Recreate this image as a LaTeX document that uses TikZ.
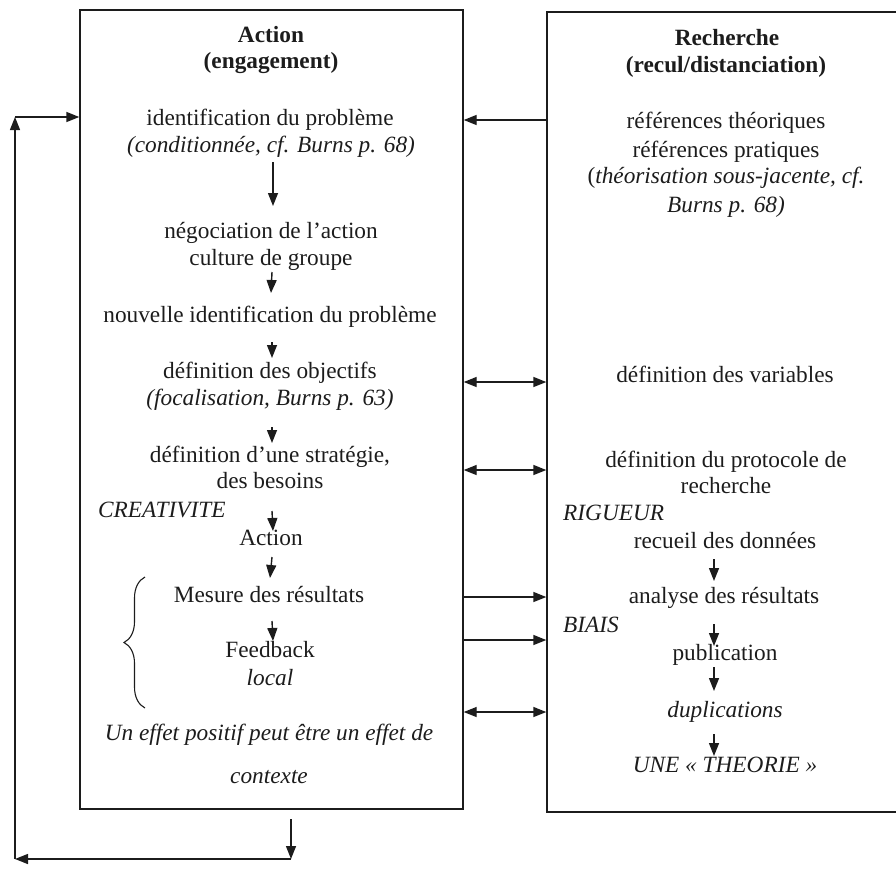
\documentclass[tikz,border=0pt]{standalone}
\usepackage{fontspec}
\setmainfont{Liberation Serif}
\usetikzlibrary{arrows.meta,decorations.pathreplacing}
\definecolor{ink}{RGB}{28,28,28}
\tikzset{
  txt/.style={anchor=base,inner sep=0pt,text=ink,font=\fontsize{23.3}{28}\selectfont},
  itx/.style={txt,font=\fontsize{23.3}{28}\selectfont\itshape},
  btx/.style={txt,font=\fontsize{23.3}{28}\selectfont\bfseries},
  ltx/.style={itx,anchor=base west},
  boxstyle/.style={draw=ink,line width=1.4pt,inner sep=0pt},
  arr/.style={draw=ink,line width=1.4pt,-{Triangle[length=13pt,width=10pt]}},
  darr/.style={draw=ink,line width=1.4pt,{Triangle[length=13pt,width=10pt]}-{Triangle[length=13pt,width=10pt]}}
}
\begin{document}
\begin{tikzpicture}[x=1pt,y=-1pt]
\useasboundingbox (0,0) rectangle (896,870);
% boxes
\node[boxstyle,minimum width=383pt,minimum height=799pt] (LB) at (271.5,409.5) {};
\node[boxstyle,minimum width=360pt,minimum height=800pt] (RB) at (727,412) {};
% left texts
\node[btx] (A1) at (271,42) {Action};
\node[btx] (A2) at (271,68) {(engagement)};
\node[txt] (L1) at (270,125) {identification du problème};
\node[itx] (L2) at (271,152) {(conditionnée, cf. Burns p. 68)};
\node[txt] (L3) at (271,238) {négociation de l’action};
\node[txt] (L4) at (271,265) {culture de groupe};
\node[txt] (L5) at (270,322) {nouvelle identification du problème};
\node[txt] (L6) at (270,378) {définition des objectifs};
\node[itx] (L7) at (270,405) {(focalisation, Burns p. 63)};
\node[txt] (L8) at (270,462) {définition d’une stratégie,};
\node[txt] (L9) at (270,488) {des besoins};
\node[ltx] (CR) at (98,517) {CREATIVITE};
\node[txt] (L10) at (271,545) {Action};
\node[txt] (L11) at (269,602) {Mesure des résultats};
\node[txt] (L12) at (270,657) {Feedback};
\node[itx] (L13) at (270,685) {local};
\node[itx] (L14) at (269,740) {Un effet positif peut être un effet de};
\node[itx] (L15) at (269,783) {contexte};
% right texts
\node[btx] (R1) at (727,45) {Recherche};
\node[btx] (R2) at (726,72) {(recul/distanciation)};
\node[txt] (R3) at (726,128) {références théoriques};
\node[txt] (R4) at (726,157) {références pratiques};
\node[txt] (R5) at (726,183) {(\textit{théorisation sous-jacente, cf.}};
\node[itx] (R6) at (726,212) {Burns p. 68)};
\node[txt] (R7) at (725,382) {définition des variables};
\node[txt] (R8) at (726,467) {définition du protocole de};
\node[txt] (R9) at (726,493) {recherche};
\node[ltx] (RG) at (563,520) {RIGUEUR};
\node[txt] (R10) at (725,548) {recueil des données};
\node[txt] (R11) at (724,603) {analyse des résultats};
\node[ltx] (BI) at (563,632) {BIAIS};
\node[txt] (R12) at (725,660) {publication};
\node[itx] (R13) at (725,717) {duplications};
\node[itx] (R14) at (725,772) {UNE « THEORIE »};
% left chain arrows
\draw[arr] ([shift={(2,10)}]L2.base) -- ([shift={(2,-32)}]L3.base);
\draw[arr] ([shift={(1,7)}]L4.base) -- ([shift={(1,-29)}]L5.base);
\draw[arr] ([shift={(2,20)}]L5.base) -- ([shift={(2,-20)}]L6.base);
\draw[arr] ([shift={(2,22)}]L7.base) -- ([shift={(2,-19)}]L8.base);
\draw[arr] ([shift={(2,23)}]L9.base) -- ([shift={(2,-14)}]L10.base);
\draw[arr] ([shift={(1,12)}]L10.base) -- ([shift={(1,-24)}]L11.base);
\draw[arr] ([shift={(3,19)}]L11.base) -- ([shift={(3,-16)}]L12.base);
% right chain arrows
\draw[arr] ([shift={(-11,11)}]R10.base) -- ([shift={(-10,-22)}]R11.base);
\draw[arr] ([shift={(-10,21)}]R11.base) -- ([shift={(-11,-14)}]R12.base);
\draw[arr] ([shift={(-11,7)}]R12.base) -- ([shift={(-11,-26)}]R13.base);
\draw[arr] ([shift={(-11,17)}]R13.base) -- ([shift={(-11,-16)}]R14.base);
% brace
\draw[draw=ink,line width=1.1pt,decorate,decoration={brace,amplitude=21pt,aspect=0.5}] (145,708) -- (145,577);
% between boxes
\draw[arr] (RB.west |- 0,120) -- (LB.east |- 0,120);
\draw[darr] (LB.east |- 0,382) -- (RB.west |- 0,382);
\draw[darr] (LB.east |- 0,470) -- (RB.west |- 0,470);
\draw[arr] (LB.east |- 0,597) -- (RB.west |- 0,597);
\draw[arr] (LB.east |- 0,640) -- (RB.west |- 0,640);
\draw[darr] (LB.east |- 0,712) -- (RB.west |- 0,712);
% feedback loop
\coordinate (c0) at (291,819);
\coordinate (c1) at (291,859);
\coordinate (c2) at (15,859);
\coordinate (c3) at (15,117);
\draw[arr] (c0) -- (c1);
\draw[arr] (c1) -- (c2);
\draw[arr] (c2) -- (c3);
\draw[arr] (c3) -- (LB.west |- c3);
\end{tikzpicture}
\end{document}
